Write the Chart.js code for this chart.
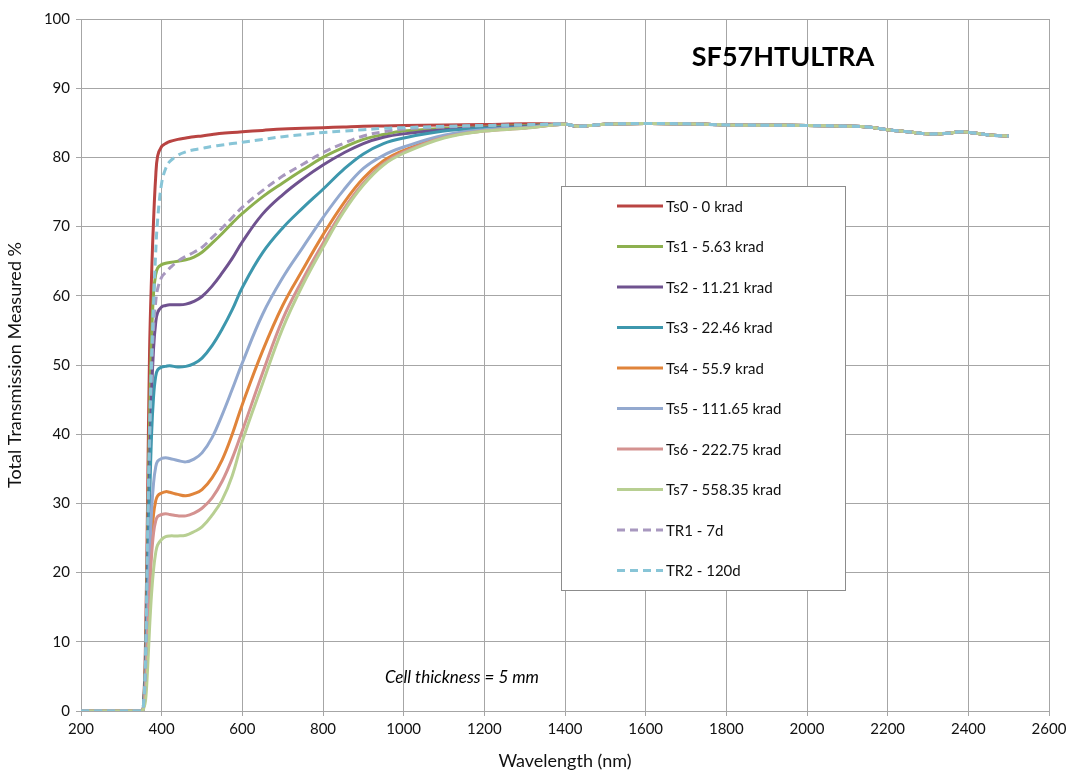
<!DOCTYPE html>
<html>
<head>
<meta charset="utf-8">
<title>SF57HTULTRA</title>
<script src="https://cdn.jsdelivr.net/npm/chart.js@4.4.1/dist/chart.umd.min.js"></script>
<style>
  body { margin: 0; background: #fff; }
  #grafica { display: block; }
</style>
</head>
<body>
<canvas id="grafica" width="1072" height="776"></canvas>
<script>
// longitudes de onda (nm)
const longitudes = [200, 350, 355, 360, 365, 370, 375, 380, 385, 390,
  400, 410, 420, 440, 460, 480, 500, 525, 550, 575,
  600, 650, 700, 750, 800, 850, 900, 950, 1000, 1100,
  1200, 1300, 1400, 1430, 1460, 1500, 1600, 1700, 1800, 1900,
  2000, 2100, 2150, 2200, 2250, 2300, 2350, 2380, 2420, 2460, 2500];

// de 200 a 1300 nm cada serie es distinta
const ts0 = [0, 0, 1, 10, 30, 52, 63, 71, 77, 80.2, 81.6, 82, 82.3, 82.6, 82.8, 83, 83.1, 83.3, 83.5, 83.6, 83.7, 83.9, 84.1, 84.2, 84.3, 84.4, 84.5, 84.55, 84.6, 84.7, 84.75, 84.85];
const ts1 = [0, 0, 1, 7, 24, 42, 54, 60.5, 63, 64, 64.5, 64.7, 64.8, 65, 65.2, 65.6, 66.3, 67.6, 69, 70.5, 71.9, 74.3, 76.3, 78.2, 80, 81.4, 82.6, 83.3, 83.8, 84.2, 84.4, 84.6];
const ts2 = [0, 0, 1, 6, 20, 35, 46, 52.5, 56, 57.6, 58.4, 58.6, 58.7, 58.7, 58.8, 59.2, 59.9, 61.4, 63.3, 65.4, 67.8, 71.8, 74.6, 76.9, 78.9, 80.6, 82, 82.9, 83.4, 84, 84.3, 84.5];
const ts3 = [0, 0, 1, 5, 17, 30, 40, 45.5, 48.3, 49.3, 49.7, 49.8, 49.9, 49.7, 49.8, 50.2, 51, 52.8, 55.2, 58, 61.2, 66.2, 69.8, 72.7, 75.4, 78.2, 80.5, 82, 82.8, 83.8, 84.2, 84.4];
const ts4 = [0, 0, 0.5, 4, 11, 19, 25, 28.5, 30.3, 31.1, 31.5, 31.7, 31.6, 31.3, 31.1, 31.4, 32, 33.7, 36.3, 40, 44.3, 52, 58.6, 63.8, 68.8, 73.3, 77, 79.5, 81, 83, 83.9, 84.3];
const ts5 = [0, 0, 0.5, 4, 13, 22, 29, 33, 35.2, 36.1, 36.5, 36.6, 36.5, 36.2, 36, 36.4, 37.3, 39.5, 42.8, 46.5, 50.3, 57.3, 62.6, 67, 71.3, 75.2, 78.4, 80.3, 81.5, 83.2, 84, 84.3];
const ts6 = [0, 0, 0.5, 3, 10, 17, 22.5, 25.8, 27.4, 28.1, 28.4, 28.5, 28.4, 28.2, 28.2, 28.6, 29.3, 30.8, 33.2, 36.5, 40.5, 48.8, 56.6, 62.4, 67.6, 72.4, 76.3, 79.1, 80.8, 82.9, 83.8, 84.2];
const ts7 = [0, 0, 0.3, 1.5, 6, 12, 17, 20.5, 22.8, 24, 24.8, 25.2, 25.3, 25.3, 25.4, 25.9, 26.6, 28.3, 30.5, 34, 39, 47.3, 55.3, 61.6, 67, 72, 76, 78.9, 80.6, 82.8, 83.8, 84.2];
const tr1 = [0, 0, 1, 6, 22, 38, 49, 55.5, 59, 61, 62.7, 63.4, 64, 65, 65.7, 66.3, 67, 68.4, 69.8, 71.3, 72.8, 75.2, 77.3, 79, 80.7, 82, 83.1, 83.7, 84.1, 84.4, 84.6, 84.7];
const tr2 = [0, 0, 1, 8, 25, 40, 51, 59, 66, 71, 76.3, 78.4, 79.4, 80.3, 80.8, 81.1, 81.3, 81.6, 81.8, 82, 82.2, 82.6, 83, 83.3, 83.6, 83.8, 84, 84.2, 84.3, 84.5, 84.6, 84.7];

// de 1400 a 2500 nm todas las curvas coinciden
const colaComun = [84.8, 84.5, 84.6, 84.8, 84.9, 84.85, 84.7, 84.65, 84.6, 84.5, 84.4, 84.0, 83.7, 83.4, 83.5, 83.7, 83.5, 83.2, 83.1];

const series = [ts0, ts1, ts2, ts3, ts4, ts5, ts6, ts7, tr1, tr2];
const etiquetas = ["Ts0 - 0 krad", "Ts1 - 5.63 krad", "Ts2 - 11.21 krad", "Ts3 - 22.46 krad",
  "Ts4 - 55.9 krad", "Ts5 - 111.65 krad", "Ts6 - 222.75 krad", "Ts7 - 558.35 krad",
  "TR1 - 7d", "TR2 - 120d"];
const colores = ["#B94442", "#8DB04F", "#6F528F", "#3D97AD", "#E0843A",
  "#93A9CF", "#D49290", "#B8CF92", "#A898BF", "#88C5D7"];
const discontinuas = [false, false, false, false, false, false, false, false, true, true];

const fuente = "Lato, 'Open Sans', sans-serif";
const gris = "#a6a6a6";

function armarDatasets() {
  return series.map((valores, i) => {
    const completos = valores.concat(colaComun);
    return {
      label: etiquetas[i],
      data: longitudes.map((x, j) => ({ x: x, y: completos[j] })),
      borderColor: colores[i],
      borderWidth: 3,
      borderDash: discontinuas[i] ? [8, 5] : [],
      pointRadius: 0,
      fill: false,
      tension: 0.4,
      order: series.length - i, // el ultimo queda encima, como en Excel
    };
  });
}

// leyenda, titulo y nota dibujados dentro del area del grafico
const extrasPlugin = {
  id: "extras",
  afterDraw(chart) {
    const ctx = chart.ctx;
    ctx.save();

    ctx.fillStyle = "#fff";
    ctx.fillRect(561.5, 186.5, 284, 404);
    ctx.strokeStyle = "#8c8c8c";
    ctx.lineWidth = 1;
    ctx.strokeRect(561.5, 186.5, 284, 404);

    ctx.font = "15px " + fuente;
    ctx.textBaseline = "middle";
    ctx.textAlign = "left";
    chart.data.datasets.forEach((ds, i) => {
      const y = 206 + i * 40.5;
      ctx.strokeStyle = ds.borderColor;
      ctx.lineWidth = 3;
      ctx.setLineDash(ds.borderDash);
      ctx.beginPath();
      ctx.moveTo(617, y);
      ctx.lineTo(663, y);
      ctx.stroke();
      ctx.setLineDash([]);
      ctx.fillStyle = "#111";
      ctx.fillText(ds.label, 666, y + 1);
    });

    ctx.fillStyle = "#000";
    ctx.textAlign = "center";
    ctx.font = "bold 27px " + fuente;
    ctx.fillText("SF57HTULTRA", 783, 57);

    ctx.font = "italic 17px " + fuente;
    ctx.fillText("Cell thickness = 5 mm", 462, 678);
    ctx.restore();
  },
};

const configuracion = {
  type: "line",
  data: { datasets: armarDatasets() },
  options: {
    responsive: false,
    animation: false,
    events: [],
    layout: { padding: { top: 19, right: 23, left: 0, bottom: 0 } },
    plugins: {
      legend: { display: false },
      tooltip: { enabled: false },
    },
    scales: {
      x: {
        type: "linear",
        min: 200,
        max: 2600,
        ticks: {
          stepSize: 200,
          color: "#111",
          font: { family: fuente, size: 15 },
          padding: 4,
          callback: (valor) => String(valor),
        },
        grid: { color: gris, tickLength: 5 },
        border: { color: gris },
        title: { display: true, text: "Wavelength (nm)", color: "#111", font: { family: fuente, size: 18 }, padding: { top: 4 } },
        afterFit(scale) { scale.height = 65; },
      },
      y: {
        min: 0,
        max: 100,
        ticks: { stepSize: 10, color: "#111", font: { family: fuente, size: 15 }, padding: 6 },
        grid: { color: gris, tickLength: 5 },
        border: { color: gris },
        title: { display: true, text: "Total Transmission Measured %", color: "#111", font: { family: fuente, size: 18 }, padding: { bottom: 6 } },
        afterFit(scale) { scale.width = 81; },
      },
    },
  },
  plugins: [extrasPlugin],
};

const grafica = new Chart(document.querySelector("#grafica"), configuracion);
</script>
</body>
</html>
